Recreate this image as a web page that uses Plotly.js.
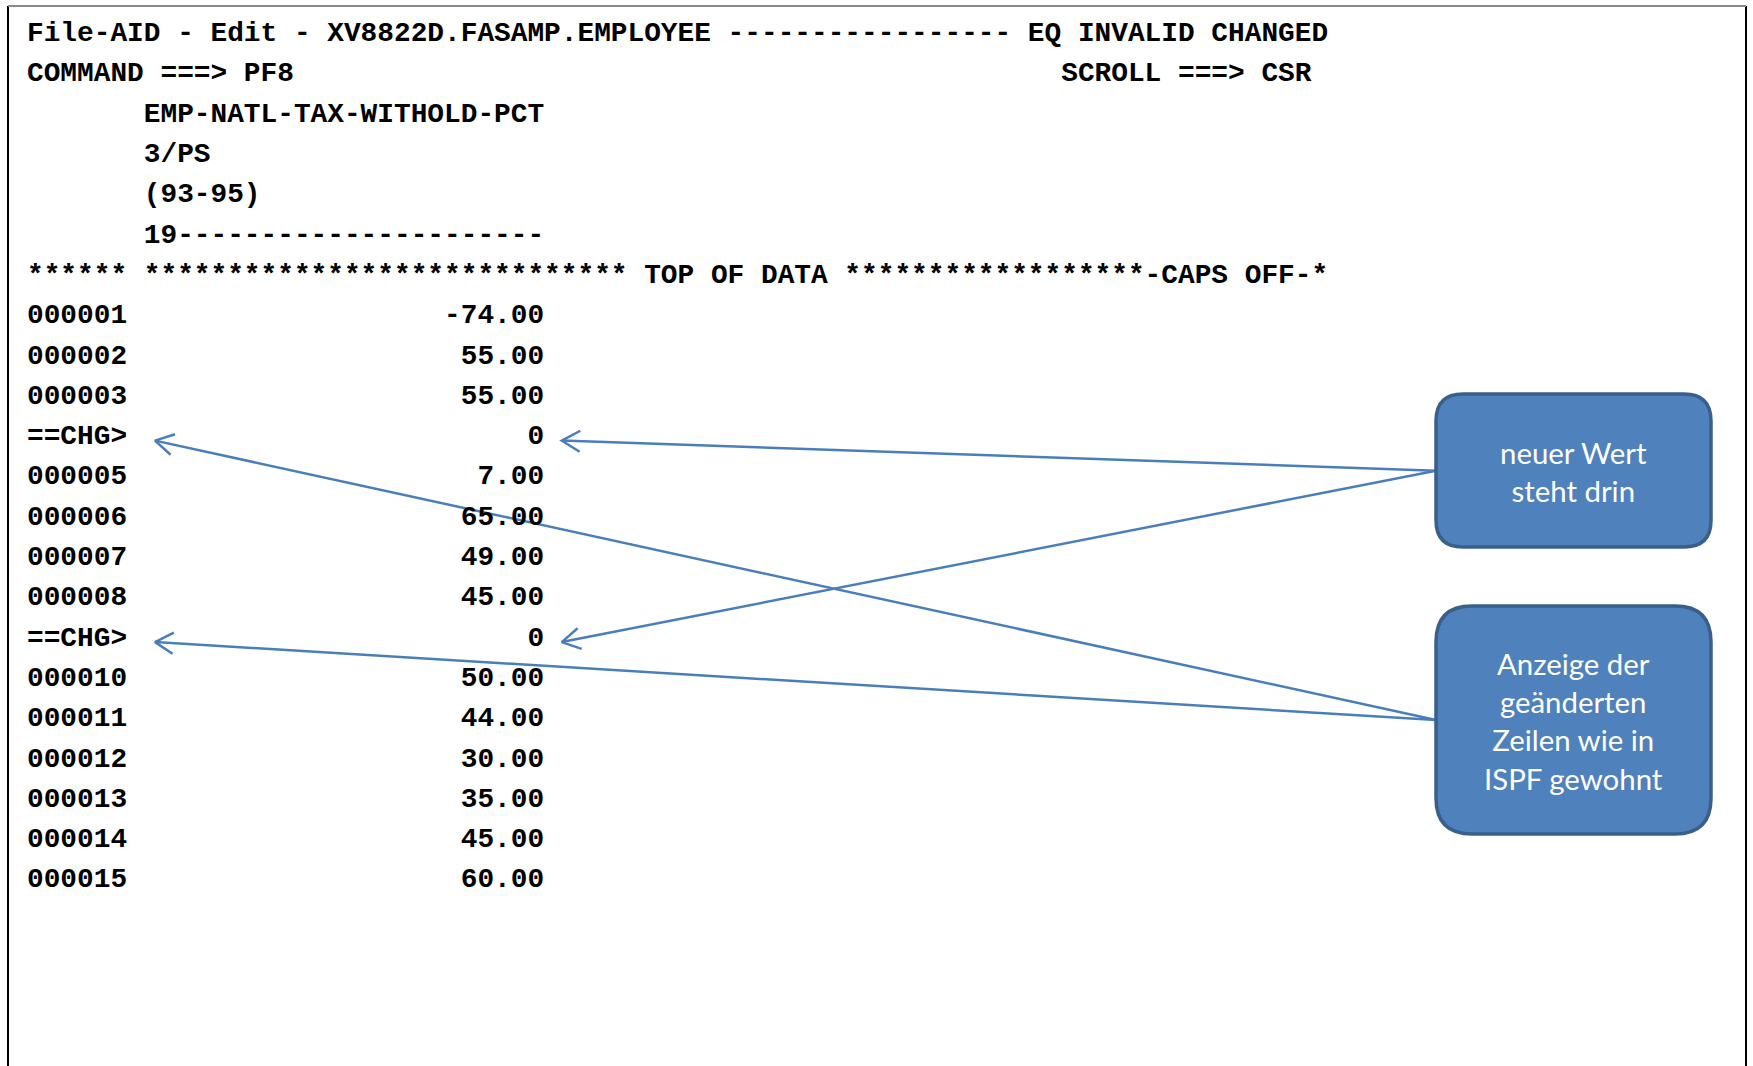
<!DOCTYPE html>
<html>
<head>
<meta charset="utf-8">
<script src="https://cdn.plot.ly/plotly-3.0.1.min.js"></script>
<style>html,body{margin:0;padding:0;background:#fff;}#chart{width:1753px;height:1066px;}</style>
</head>
<body>
<div id="chart"></div>
<script>
// ---- data ----
const titleLine = 'File-AID - Edit - XV8822D.FASAMP.EMPLOYEE ----------------- EQ INVALID CHANGED';
const commandText = 'COMMAND ===> PF8';
const scrollText = 'SCROLL ===> CSR';
const fieldHeader = ['EMP-NATL-TAX-WITHOLD-PCT', '3/PS', '(93-95)', '19----------------------'];
const topOfData = '****** ***************************** TOP OF DATA ******************-CAPS OFF-*';
const rowLabels = ['000001','000002','000003','==CHG>','000005','000006','000007','000008','==CHG>','000010','000011','000012','000013','000014','000015'];
const rowValues = ['-74.00','55.00','55.00','0','7.00','65.00','49.00','45.00','0','50.00','44.00','30.00','35.00','45.00','60.00'];
const calloutTexts = ['neuer Wert<br>steht drin', 'Anzeige der<br>geänderten<br>Zeilen wie in<br>ISPF gewohnt'];

// ---- layout helpers ----
const NB = '\u00A0';
const pad = n => NB.repeat(Math.max(0, n));
const sp = s => s.replace(/ /g, NB);
const X0 = 25, CW = 16.67, Y0 = 33.6, RH = 40.3;
const rowY = i => Y0 + i * RH;

const lines = [];
lines.push(titleLine);
lines.push(commandText + pad(62 - commandText.length) + scrollText);
fieldHeader.forEach(t => lines.push(pad(7) + t));
lines.push(topOfData);
const dataStart = lines.length;
rowLabels.forEach((lab, k) => {
  const v = rowValues[k];
  lines.push(lab + pad(31 - lab.length - v.length) + v);
});

const annotations = lines.map((t, i) => ({
  x: X0, y: rowY(i), xref: 'x', yref: 'y', xanchor: 'left', yanchor: 'middle',
  text: sp(t), showarrow: false,
  font: {family: 'Liberation Mono, Courier New, monospace', size: 27.8, color: '#000', weight: 'bold'}
}));

// callout boxes
const boxes = [
  {x0: 1436, x1: 1711, y0: 394, y1: 547, r: 27},
  {x0: 1436, x1: 1711, y0: 606, y1: 834, r: 36}
];
function roundRect(b) {
  const {x0, x1, y0, y1, r} = b;
  return `M${x0 + r},${y0} L${x1 - r},${y0} Q${x1},${y0} ${x1},${y0 + r} L${x1},${y1 - r} Q${x1},${y1} ${x1 - r},${y1} L${x0 + r},${y1} Q${x0},${y1} ${x0},${y1 - r} L${x0},${y0 + r} Q${x0},${y0} ${x0 + r},${y0} Z`;
}
const shapes = [
  {type: 'line', xref: 'x', yref: 'y', x0: 8, x1: 8, y0: 6, y1: 1070, line: {color: '#000', width: 2}},
  {type: 'line', xref: 'x', yref: 'y', x0: 1746, x1: 1746, y0: 6, y1: 1070, line: {color: '#000', width: 2}},
  {type: 'line', xref: 'x', yref: 'y', x0: 8, x1: 1746, y0: 6, y1: 6, line: {color: '#8a8a8a', width: 2}}
];
boxes.forEach(b => shapes.push({type: 'path', xref: 'x', yref: 'y', path: roundRect(b),
  fillcolor: '#4F81BD', line: {color: '#3A5F8B', width: 3.5}, layer: 'above'}));

calloutTexts.forEach((t, k) => {
  const b = boxes[k];
  annotations.push({x: (b.x0 + b.x1) / 2, y: (b.y0 + b.y1) / 2 + 1, xref: 'x', yref: 'y',
    xanchor: 'center', yanchor: 'middle', text: t, showarrow: false, align: 'center',
    font: {family: 'Lato, Open Sans, sans-serif', size: 29.4, color: '#fff'}});
});

// arrows: from callout box left edge to rows
const chgRows = rowLabels.map((l, k) => l === '==CHG>' ? dataStart + k : -1).filter(k => k >= 0);
const valueTipX = X0 + 31 * CW + 20;
const labelTipX = X0 + 6 * CW + 30;
const arrows = [];
chgRows.forEach(r => arrows.push({sx: boxes[0].x0, sy: 470.7, tx: valueTipX, ty: rowY(r) + 4}));
chgRows.forEach(r => arrows.push({sx: boxes[1].x0, sy: 720, tx: labelTipX, ty: rowY(r) + 4}));

const traces = [];
const AC = '#4A7EBB';
arrows.forEach(a => {
  traces.push({x: [a.sx, a.tx], y: [a.sy, a.ty], mode: 'lines', line: {color: AC, width: 2.5}, hoverinfo: 'skip', showlegend: false});
  const dx = a.sx - a.tx, dy = a.sy - a.ty, L = Math.hypot(dx, dy);
  const ux = dx / L, uy = dy / L, ang = 30 * Math.PI / 180, hl = 21;
  const rot = s => [a.tx + hl * (ux * Math.cos(s * ang) - uy * Math.sin(s * ang)), a.ty + hl * (ux * Math.sin(s * ang) + uy * Math.cos(s * ang))];
  const p1 = rot(1), p2 = rot(-1);
  traces.push({x: [p1[0], a.tx, p2[0]], y: [p1[1], a.ty, p2[1]], mode: 'lines', line: {color: AC, width: 2.5}, hoverinfo: 'skip', showlegend: false});
});

const layout = {
  width: 1753, height: 1066, margin: {l: 0, r: 0, t: 0, b: 0},
  paper_bgcolor: '#fff', plot_bgcolor: '#fff', showlegend: false,
  xaxis: {range: [0, 1753], visible: false, fixedrange: true},
  yaxis: {range: [1066, 0], visible: false, fixedrange: true},
  shapes: shapes, annotations: annotations
};
Plotly.newPlot('chart', traces, layout, {staticPlot: true, displayModeBar: false});
</script>
</body>
</html>
